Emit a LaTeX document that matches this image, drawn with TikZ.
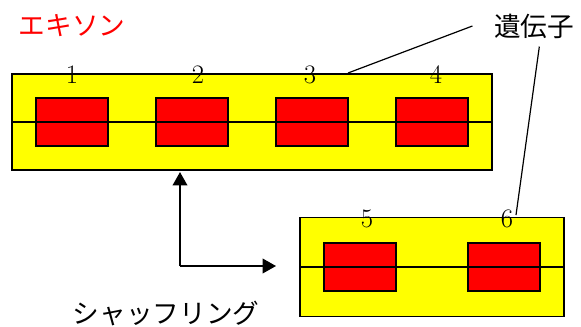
\documentclass[tikz,border=0pt]{standalone}
\usepackage{fontspec}
\newfontfamily\jpfont{Noto Sans CJK JP}
\usetikzlibrary{arrows.meta}
\definecolor{exonred}{RGB}{255,0,0}
\definecolor{strandyellow}{RGB}{255,255,0}
\tikzset{
  strand/.style={draw, line width=1.1pt, fill=strandyellow, inner sep=0pt},
  exon/.style={draw, line width=1.1pt, fill=exonred, inner sep=0pt,
    minimum width=54pt, minimum height=36pt},
  num/.style={inner sep=0pt, font=\fontsize{20}{24}\selectfont},
  jplabel/.style={inner sep=0pt, font=\jpfont\fontsize{20}{24}\selectfont}
}

\begin{document}
\begin{tikzpicture}[x=0.75pt, y=-0.75pt]
        \useasboundingbox (0,0) rectangle (581,326);

        % upper strand
        \node (top) at (252,122) [strand, minimum width=360pt, minimum height=72pt] {};
        \node (g1) at (72,122) [exon] {};
        \node (g2) at (192,122) [exon] {};
        \node (g3) at (312,122) [exon] {};
        \node (g4) at (432,122) [exon] {};
        \draw [line width=1.1pt] (top.west) -- (top.east);
        \node (n1) at (72,75) [num] {1};
        \node (n2) at (198,75) [num] {2};
        \node (n3) at (310,75) [num] {3};
        \node (n4) at (436,75) [num] {4};

        % lower strand
        \node (bot) at (432,267) [strand, minimum width=198pt, minimum height=74pt] {};
        \node (g5) at (360,267) [exon] {};
        \node (g6) at (504,267) [exon] {};
        \draw [line width=1.1pt] (bot.west) -- (bot.east);
        \node (n5) at (367,219) [num] {5};
        \node (n6) at (507,219) [num] {6};

        % labels
        \node (exonlabel) at (72,26) [jplabel, text=exonred] {エキソン};
        \node (genelabel) at (534,26) [jplabel] {遺伝子};
        \node (shuffle) at (166,313) [jplabel] {シャッフリング};

        % leaders
        \coordinate (lead3) at (348,73);
        \coordinate (lead6) at (516,215);
        \draw [line width=0.9pt] ([xshift=-16pt]genelabel.west) -- (lead3);
        \draw [line width=0.9pt] ([xshift=4pt,yshift=-6pt]genelabel.south) -- (lead6);

        % shuffling arrow
        \coordinate (turn) at (180,266);
        \coordinate (shufend) at (276,266);
        \draw [line width=1.1pt, -{Triangle[length=10pt,width=11pt]}] (turn) -- ([yshift=-1pt]turn |- top.south);
        \draw [line width=1.1pt, -{Triangle[length=10pt,width=11pt]}] (turn) -- (shufend);
\end{tikzpicture}
\end{document}
